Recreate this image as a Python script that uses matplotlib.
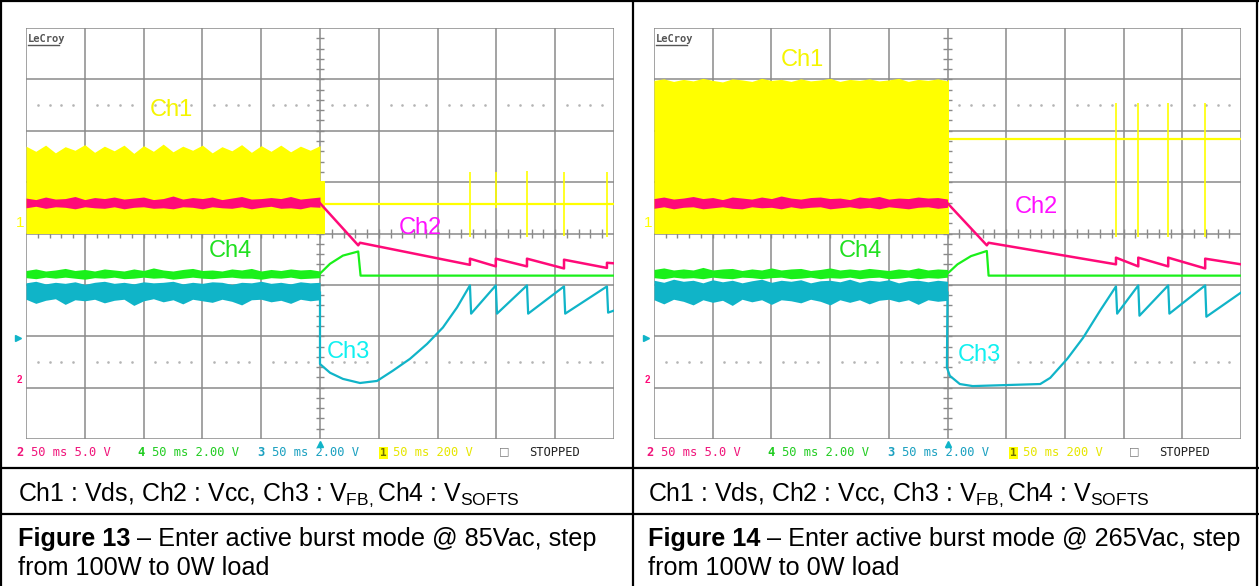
import matplotlib.pyplot as plt
import numpy as np

W, H = 1259, 586
plt.rcParams['font.family'] = ['Liberation Sans', 'DejaVu Sans']
plt.rcParams['mathtext.fontset'] = 'custom'
plt.rcParams['mathtext.rm'] = 'Liberation Sans'

# ---------------- Figure 13 (85Vac) : values in screen divisions ----------------
ch1_top_13 = [5.70, 5.60, 5.72, 5.57, 5.69, 5.62, 5.73, 5.58, 5.70, 5.61, 5.72,
              5.56, 5.71, 5.60, 5.74, 5.59, 5.70, 5.62, 5.72, 5.57, 5.69, 5.61,
              5.73, 5.58, 5.71, 5.60, 5.72, 5.59, 5.70, 5.62, 5.71]
ch1_tail_13 = [5.08, 5.03]
ch1_level_13 = 4.57
ch1_spike_x_13 = [7.55, 7.99, 8.52, 9.15, 9.88]
ch1_spike_lo_13 = [3.94, 4.50, 3.94, 3.96, 3.94]
ch1_spike_hi_13 = [5.19, 5.19, 5.22, 5.19, 5.19]

ch2_hi_13 = [4.69, 4.66, 4.71, 4.67, 4.68, 4.72, 4.66, 4.70, 4.68, 4.71, 4.67,
             4.69, 4.71, 4.66, 4.68, 4.73, 4.67, 4.70, 4.68, 4.71, 4.66, 4.69,
             4.72, 4.67, 4.68, 4.70, 4.68, 4.72, 4.67, 4.69, 4.71]
ch2_lo_13 = [4.50, 4.53, 4.49, 4.52, 4.51, 4.48, 4.52, 4.50, 4.49, 4.52, 4.48,
             4.51, 4.52, 4.49, 4.50, 4.48, 4.52, 4.51, 4.48, 4.52, 4.50, 4.49,
             4.52, 4.48, 4.51, 4.53, 4.49, 4.50, 4.48, 4.52, 4.51]
ch2_x_13 = [5.0, 5.65, 5.68, 7.55, 7.55, 7.99, 7.99, 8.52, 8.52, 9.15, 9.15, 9.88, 9.88, 10.0]
ch2_y_13 = [4.59, 3.77, 3.82, 3.39, 3.51, 3.36, 3.51, 3.36, 3.51, 3.32, 3.49, 3.33, 3.43, 3.42]

ch4_hi_13 = [3.28, 3.31, 3.27, 3.29, 3.32, 3.28, 3.30, 3.27, 3.31, 3.29, 3.27,
             3.31, 3.28, 3.33, 3.29, 3.27, 3.30, 3.32, 3.28, 3.29, 3.27, 3.31,
             3.29, 3.32, 3.27, 3.30, 3.28, 3.31, 3.29, 3.30, 3.27]
ch4_lo_13 = [3.14, 3.12, 3.15, 3.13, 3.15, 3.13, 3.11, 3.14, 3.13, 3.15, 3.12,
             3.13, 3.15, 3.13, 3.14, 3.11, 3.13, 3.15, 3.13, 3.12, 3.14, 3.15,
             3.13, 3.13, 3.11, 3.14, 3.13, 3.15, 3.12, 3.13, 3.14]
ch4_x_13 = [5.0, 5.17, 5.39, 5.65, 5.69, 10.0]
ch4_y_13 = [3.22, 3.41, 3.57, 3.65, 3.18, 3.18]

ch3_hi_13 = [3.04, 3.07, 3.02, 3.05, 3.03, 3.06, 3.01, 3.05, 3.07, 3.03, 3.05,
             3.02, 3.06, 3.04, 3.05, 3.07, 3.02, 3.05, 3.03, 3.06, 3.05, 3.01,
             3.05, 3.04, 3.07, 3.03, 3.05, 3.02, 3.06, 3.04, 3.05]
ch3_lo_13 = [2.72, 2.64, 2.70, 2.73, 2.62, 2.71, 2.69, 2.72, 2.65, 2.70, 2.72,
             2.60, 2.69, 2.73, 2.67, 2.71, 2.63, 2.72, 2.69, 2.66, 2.72, 2.68,
             2.61, 2.71, 2.72, 2.67, 2.70, 2.64, 2.72, 2.69, 2.71]
ch3_x_13 = [5.0, 5.0, 5.17, 5.39, 5.68, 5.97, 6.24, 6.53, 6.82, 7.09, 7.33, 7.55,
            7.57, 7.99, 8.01, 8.52, 8.54, 9.15, 9.17, 9.88, 9.90, 10.0]
ch3_y_13 = [2.85, 1.46, 1.29, 1.17, 1.09, 1.13, 1.33, 1.56, 1.85, 2.17, 2.56, 2.99,
            2.44, 2.99, 2.44, 2.99, 2.44, 2.97, 2.44, 2.97, 2.46, 2.50]

# ---------------- Figure 14 (265Vac) ----------------
ch1_top_14 = [6.98, 7.01, 6.96, 7.00, 6.97, 7.02, 6.98, 6.95, 7.01, 6.99, 6.96,
              7.02, 6.98, 7.00, 6.96, 7.01, 6.97, 6.99, 7.02, 6.96, 7.00, 6.98,
              7.01, 6.97, 6.99, 7.02, 6.96, 7.00, 6.98, 7.01, 6.97]
ch1_tail_14 = [5.02, 6.98]
ch1_level_14 = 5.83
ch1_spike_x_14 = [7.87, 8.25, 8.76, 9.39]
ch1_spike_lo_14 = [3.94, 3.94, 3.94, 3.94]
ch1_spike_hi_14 = [6.54, 6.54, 6.54, 6.54]

ch2_hi_14 = [4.68, 4.71, 4.67, 4.69, 4.72, 4.68, 4.70, 4.66, 4.71, 4.69, 4.67,
             4.71, 4.68, 4.73, 4.69, 4.67, 4.70, 4.71, 4.68, 4.69, 4.66, 4.71,
             4.69, 4.72, 4.67, 4.69, 4.68, 4.71, 4.69, 4.70, 4.67]
ch2_lo_14 = [4.49, 4.52, 4.48, 4.51, 4.52, 4.48, 4.50, 4.52, 4.49, 4.48, 4.52,
             4.50, 4.51, 4.48, 4.52, 4.49, 4.51, 4.52, 4.48, 4.50, 4.52, 4.49,
             4.51, 4.48, 4.52, 4.50, 4.48, 4.51, 4.52, 4.49, 4.51]
ch2_x_14 = [5.0, 5.67, 5.70, 7.87, 7.87, 8.25, 8.25, 8.76, 8.76, 9.39, 9.39, 10.0]
ch2_y_14 = [4.59, 3.77, 3.82, 3.40, 3.53, 3.36, 3.53, 3.36, 3.53, 3.32, 3.51, 3.40]

ch4_hi_14 = [3.30, 3.33, 3.29, 3.31, 3.29, 3.34, 3.29, 3.31, 3.32, 3.28, 3.31,
             3.29, 3.33, 3.29, 3.31, 3.32, 3.28, 3.30, 3.33, 3.29, 3.31, 3.29,
             3.32, 3.30, 3.28, 3.31, 3.29, 3.33, 3.29, 3.31, 3.30]
ch4_lo_14 = [3.14, 3.12, 3.15, 3.13, 3.14, 3.12, 3.15, 3.13, 3.12, 3.15, 3.14,
             3.12, 3.14, 3.15, 3.12, 3.13, 3.15, 3.12, 3.14, 3.13, 3.15, 3.12,
             3.14, 3.15, 3.12, 3.13, 3.15, 3.12, 3.14, 3.13, 3.15]
ch4_x_14 = [5.0, 5.17, 5.40, 5.67, 5.70, 10.0]
ch4_y_14 = [3.22, 3.40, 3.56, 3.66, 3.18, 3.18]

ch3_hi_14 = [3.09, 3.05, 3.11, 3.07, 3.09, 3.04, 3.10, 3.06, 3.09, 3.04, 3.08,
             3.11, 3.05, 3.09, 3.07, 3.10, 3.04, 3.08, 3.09, 3.06, 3.11, 3.05,
             3.09, 3.07, 3.10, 3.04, 3.08, 3.09, 3.06, 3.09, 3.07]
ch3_lo_14 = [2.71, 2.63, 2.72, 2.68, 2.61, 2.71, 2.66, 2.70, 2.60, 2.72, 2.67,
             2.71, 2.62, 2.71, 2.69, 2.65, 2.72, 2.68, 2.61, 2.71, 2.66, 2.71,
             2.63, 2.70, 2.72, 2.67, 2.71, 2.62, 2.71, 2.68, 2.70]
ch3_x_14 = [5.0, 4.99, 5.04, 5.21, 5.43, 6.58, 6.75, 7.04, 7.31, 7.60, 7.87,
            7.89, 8.25, 8.27, 8.76, 8.78, 9.39, 9.41, 10.0]
ch3_y_14 = [2.85, 1.39, 1.23, 1.07, 1.03, 1.07, 1.19, 1.56, 1.97, 2.50, 2.97,
            2.44, 2.99, 2.40, 2.99, 2.44, 2.99, 2.38, 2.85]

# channel label positions (divisions)
labels_13 = [('Ch1', 2.48, 6.40), ('Ch2', 6.70, 4.10), ('Ch4', 3.47, 3.65), ('Ch3', 5.48, 1.70)]
labels_14 = [('Ch1', 2.52, 7.38), ('Ch2', 6.51, 4.51), ('Ch4', 3.51, 3.65), ('Ch3', 5.55, 1.64)]

YEL = '#ffff00'
MAG = '#ff0a78'
GRN = '#1af01a'
CYN = '#10b4c8'
label_col = {'Ch1': '#f5f500', 'Ch2': '#ff10ff', 'Ch3': '#10f0f0', 'Ch4': '#20e020'}

fig = plt.figure(figsize=(W / 100, H / 100), dpi=100)
tab = fig.add_axes([0, 0, 1, 1])
tab.set_xlim(0, W)
tab.set_ylim(H, 0)
tab.axis('off')


def scope(x0, x1, y0, y1, d):
    ax = fig.add_axes([x0 / W, 1 - y1 / H, (x1 - x0) / W, (y1 - y0) / H])
    ax.set_xlim(0, 10)
    ax.set_ylim(0, 8)
    ax.axis('off')
    gc = '#8a8a8a'
    ax.vlines(np.arange(0, 11), 0, 8, color=gc, lw=1.1, zorder=1)
    ax.hlines(np.arange(0, 9), 0, 10, color=gc, lw=1.1, zorder=1)
    ty = np.arange(0.2, 8, 0.2)
    ax.hlines(ty, 4.93, 5.07, color=gc, lw=1.0, zorder=1)
    tx = np.arange(0.2, 10, 0.2)
    ax.vlines(tx, 3.92, 4.08, color=gc, lw=1.0, zorder=1)
    dx = [i + k * 0.2 for i in range(10) for k in range(1, 5)]
    for yy in (6.5, 1.5):
        ax.plot(dx, [yy] * len(dx), ls='none', marker='s', ms=0.8, color='#b4b4b4', zorder=1)

    bx = np.linspace(0, 5, len(d['ch1_top']))
    ax.fill_between(bx, 4.0, d['ch1_top'], color=YEL, lw=0, zorder=2)
    ax.fill_between([5.0, d['ch1_tail'][0]], 4.0, d['ch1_tail'][1], color=YEL, lw=0, zorder=2)
    ax.plot([d['ch1_tail'][0], 10], [d['ch1_level']] * 2, color=YEL, lw=1.6, zorder=2)
    ax.vlines(d['sx'], d['slo'], d['shi'], color=YEL, lw=1.2, zorder=2)

    ax.fill_between(bx, d['ch4_lo'], d['ch4_hi'], color=GRN, lw=0, zorder=3)
    ax.plot(d['ch4_x'], d['ch4_y'], color=GRN, lw=1.6, zorder=3)
    ax.fill_between(bx, d['ch3_lo'], d['ch3_hi'], color=CYN, lw=0, zorder=4)
    ax.plot(d['ch3_x'], d['ch3_y'], color=CYN, lw=1.6, zorder=4)
    ax.fill_between(bx, d['ch2_lo'], d['ch2_hi'], color=MAG, lw=0, zorder=5)
    ax.plot(d['ch2_x'], d['ch2_y'], color=MAG, lw=1.8, zorder=5)

    for name, lx, ly in d['labels']:
        ax.text(lx, ly, name, color=label_col[name], fontsize=17, ha='center', va='center', zorder=6)

    ax.text(0.04, 7.73, 'LeCroy', fontsize=7.5, fontweight='bold', color='#555555',
            ha='left', va='baseline', family='DejaVu Sans Mono')
    ax.plot([0.03, 0.56], [7.66, 7.66], color='#555555', lw=1.0, clip_on=False)
    ax.text(-0.02, 4.2, '1', color=YEL, fontsize=11, ha='right', va='center', clip_on=False)
    ax.plot([-0.13], [1.97], marker='>', ms=5, color=CYN, clip_on=False)
    ax.text(-0.06, 1.15, '2', color=MAG, fontsize=7, fontweight='bold', ha='right', va='center')
    ax.plot([5.0], [-0.1], marker='^', ms=4, color=CYN, clip_on=False)
    return ax


d13 = dict(ch1_top=ch1_top_13, ch1_tail=ch1_tail_13, ch1_level=ch1_level_13,
           sx=ch1_spike_x_13, slo=ch1_spike_lo_13, shi=ch1_spike_hi_13,
           ch2_hi=ch2_hi_13, ch2_lo=ch2_lo_13, ch2_x=ch2_x_13, ch2_y=ch2_y_13,
           ch4_hi=ch4_hi_13, ch4_lo=ch4_lo_13, ch4_x=ch4_x_13, ch4_y=ch4_y_13,
           ch3_hi=ch3_hi_13, ch3_lo=ch3_lo_13, ch3_x=ch3_x_13, ch3_y=ch3_y_13,
           labels=labels_13)
d14 = dict(ch1_top=ch1_top_14, ch1_tail=ch1_tail_14, ch1_level=ch1_level_14,
           sx=ch1_spike_x_14, slo=ch1_spike_lo_14, shi=ch1_spike_hi_14,
           ch2_hi=ch2_hi_14, ch2_lo=ch2_lo_14, ch2_x=ch2_x_14, ch2_y=ch2_y_14,
           ch4_hi=ch4_hi_14, ch4_lo=ch4_lo_14, ch4_x=ch4_x_14, ch4_y=ch4_y_14,
           ch3_hi=ch3_hi_14, ch3_lo=ch3_lo_14, ch3_x=ch3_x_14, ch3_y=ch3_y_14,
           labels=labels_14)

scope(26, 614, 28, 439, d13)
scope(654, 1241, 28, 439, d14)

# scope status line
status = [('2', '50 ms 5.0 V', '#f0147a', 16), ('4', '50 ms 2.00 V', '#22cc22', 137),
          ('3', '50 ms 2.00 V', '#1aa0c0', 257), ('1', '50 ms 200 V', '#e6e600', 378)]
for off in (0, 630):
    for ch, txt, col, x in status:
        if ch == '1':
            tab.text(x + off + 2, 453, ch, color='#707000', fontsize=8, family='DejaVu Sans Mono',
                     fontweight='bold', va='center',
                     bbox=dict(facecolor='#ffff00', edgecolor='none', pad=0.6))
        else:
            tab.text(x + off, 453, ch, color=col, fontsize=8.7, family='DejaVu Sans Mono',
                     fontweight='bold', va='center')
        tab.text(x + off + 15, 453, txt, color=col, fontsize=8.7, family='DejaVu Sans Mono', va='center')
    tab.text(499 + off, 451, '\u25a1', color='#777777', fontsize=8, family='DejaVu Sans', va='center')
    tab.text(529 + off, 453, 'STOPPED', color='#222222', fontsize=8.7, family='DejaVu Sans Mono', va='center')

# table frame
lk = dict(color='black', lw=1.6, solid_capstyle='butt')
tab.plot([1, 1], [0, H], **lk)
tab.plot([W - 2, W - 2], [0, H], **lk)
tab.plot([633, 633], [0, H], **lk)
tab.plot([0, W], [1, 1], **lk)
tab.plot([0, W], [468, 468], **lk)
tab.plot([0, W], [514, 514], **lk)

cap_row = 'Ch1 : Vds, Ch2 : Vcc, Ch3 : V$_{\\mathrm{FB,}}$Ch4 : V$_{\\mathrm{SOFTS}}$'
captions = [('Figure 13', ' \u2013 Enter active burst mode @ 85Vac, step', 18),
            ('Figure 14', ' \u2013 Enter active burst mode @ 265Vac, step', 648)]
for fig_no, rest, x in captions:
    tab.text(x, 501, cap_row, fontsize=17.9, ha='left', va='baseline', color='black')
    t = tab.text(x, 546, fig_no, fontsize=18.2, fontweight='bold', ha='left', va='baseline', color='black')
    tab.annotate(rest, xy=(1, 0), xycoords=t, fontsize=18.2, ha='left', va='bottom', color='black')
    tab.text(x, 575, 'from 100W to 0W load', fontsize=18.2, ha='left', va='baseline', color='black')

fig.savefig('out.png', dpi=100)
